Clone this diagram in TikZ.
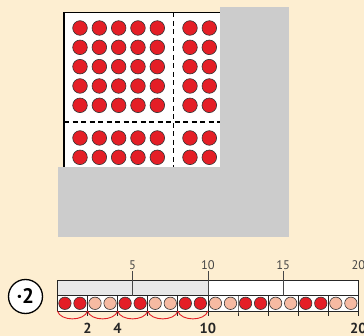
\documentclass[tikz,border=0pt]{standalone}
\usepackage{fontspec}
\setmainfont{PT Sans}
\definecolor{bgC}{RGB}{253,238,209}
\definecolor{dotC}{RGB}{228,30,38}
\definecolor{pinkC}{RGB}{246,186,162}
\definecolor{coverC}{RGB}{204,204,204}
\definecolor{barC}{RGB}{232,232,232}
\definecolor{tickC}{RGB}{70,70,70}

\begin{document}
\begin{tikzpicture}[x=1pt, y=-1pt,
  dot/.style={circle, draw=black!80, fill=dotC, line width=0.6pt,
              minimum size=14.6pt, inner sep=0pt},
  rdot/.style={dot, minimum size=12.4pt},
  pdot/.style={rdot, fill=pinkC},
  frame/.style={line width=1.2pt, draw=black},
  half/.style={line width=1.2pt, draw=black, dash pattern=on 5pt off 3.5pt},
  bar/.style={line width=0.8pt, draw=black!85},
  tick/.style={line width=0.8pt, draw=tickC},
  jump/.style={line width=0.9pt, draw=dotC},
  num/.style={font=\fontsize{12.5}{13}\selectfont, text=tickC, inner sep=1pt},
  res/.style={font=\fontsize{14.5}{15}\selectfont\bfseries, text=black!85,
              inner sep=0pt, anchor=base},
]

\useasboundingbox (0,0) rectangle (364,336);
\fill[bgC] (0,0) rectangle (364,336);

% ---------------- hundred field ----------------
\fill[white] (64,12.3) rectangle (282.7,231);
\draw[frame] (64,231) -- (64,12.3) -- (282.7,12.3);
\draw[half] (173.5,12.3) -- (173.5,231);
\draw[half] (64,122) -- (282.7,122);

\foreach \r in {0,...,7}
  \foreach \c in {0,...,7} {
    \pgfmathsetmacro{\px}{80+19.33*\c+13.33*(\c>4)}
    \pgfmathsetmacro{\py}{28+19.33*\r+13.33*(\r>4)}
    \node[dot] (d-\r-\c) at (\px,\py) {};
  }

% cover
\fill[coverC] (220,6.7) rectangle (289,237);
\fill[coverC] (58.3,167.3) rectangle (289,237);

% ---------------- operator ----------------
\node[circle, draw=black, line width=1.3pt, fill=white, minimum size=34pt,
      inner sep=0pt, font=\fontsize{21}{21}\selectfont\bfseries]
  (op) at (25.5,296.5) {·2};

% ---------------- number strip ----------------
\fill[barC] (57.4,280.7) rectangle (208,295.7);
\fill[white] (208,280.7) rectangle (358.3,295.7);
\fill[white] (57.4,295.7) rectangle (358.3,311);
\draw[bar] (57.4,280.7) rectangle (358.3,311);
\draw[bar] (57.4,295.7) -- (358.3,295.7);

\foreach \k/\t in {5/5,10/10,15/15,20/20} {
  \coordinate (t-\k) at (57.4+15.05*\k,295.7);
  \node[num] (n-\k) at (57.4+15.05*\k,265) {\t};
}
\foreach \k in {5,10,15}
  \draw[tick] (t-\k) -- (n-\k.south);

\foreach \i in {1,...,20} {
  \pgfmathtruncatemacro{\grp}{mod(\i-1,4)}
  \ifnum\grp<2
    \node[rdot] (b-\i) at (57.4+15.05*\i-7.525,303.3) {};
  \else
    \node[pdot] (b-\i) at (57.4+15.05*\i-7.525,303.3) {};
  \fi
}

\foreach \k in {0,...,10}
  \coordinate (m-\k) at (57.4+30.1*\k,311);
\foreach \k in {1,...,9}
  \draw[bar] (57.4+30.1*\k,295.7) -- (m-\k) -- ++(0,5.5);
\draw[bar] (m-10) -- ++(0,5.5);

% ---------------- jumps ----------------
\foreach \k [evaluate=\k as \n using int(\k+1)] in {0,...,4}
  \draw[jump] (m-\k) .. controls +(3,10.5) and +(-3,10.5) .. (m-\n);

\node[res] (r-2)  at ([yshift=-22.5pt]m-1)  {2};
\node[res] (r-4)  at ([yshift=-22.5pt]m-2)  {4};
\node[res] (r-10) at ([yshift=-22.5pt]m-5)  {10};
\node[res] (r-20) at ([yshift=-22.5pt]m-10) {20};

\end{tikzpicture}
\end{document}
